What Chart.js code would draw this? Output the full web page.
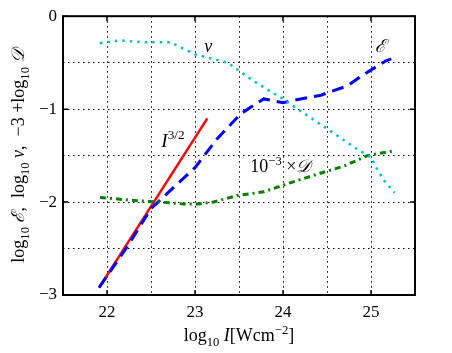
<!DOCTYPE html>
<html>
<head>
<meta charset="utf-8">
<script src="https://cdn.jsdelivr.net/npm/chart.js@4"></script>
<style>
  html, body { margin: 0; padding: 0; background: #fff; }
  canvas { display: block; }
</style>
</head>
<body>
<canvas id="c" width="452" height="353"></canvas>
<script>
// nu (cyan dotted)
const nuX = [21.92, 22.15, 22.4, 22.72, 23.0, 23.37, 23.67, 24.0, 24.2, 24.5, 24.81, 25.0, 25.06, 25.15, 25.27];
const nuY = [-0.29, -0.26, -0.28, -0.28, -0.41, -0.50, -0.70, -0.89, -1.02, -1.21, -1.41, -1.52, -1.63, -1.77, -1.90];
// E (blue dashed)
const eX = [21.91, 22.23, 22.5, 22.76, 23.0, 23.25, 23.52, 23.78, 24.0, 24.2, 24.43, 24.73, 24.92, 25.17, 25.23];
const eY = [-2.92, -2.48, -2.07, -1.84, -1.63, -1.32, -1.05, -0.89, -0.93, -0.89, -0.85, -0.75, -0.625, -0.48, -0.46];
// I^{3/2} (red)
const rX = [21.91, 23.14];
const rY = [-2.92, -1.10];
// 10^-3 x D (green dash-dot)
const dX = [21.92, 22.27, 22.6, 22.87, 23.04, 23.21, 23.48, 23.78, 24.09, 24.39, 24.7, 24.96, 25.25];
const dY = [-1.95, -1.98, -2.0, -2.02, -2.02, -2.0, -1.93, -1.89, -1.79, -1.70, -1.61, -1.50, -1.45];

const xMin = 21.5, xMax = 25.5, yMin = -3, yMax = 0;
const intTicksX = [22, 23, 24, 25];
const intTicksY = [-3, -2, -1, 0];

const FONT = "'Liberation Serif', 'DejaVu Serif', serif";
const pts = (xs, ys) => xs.map((x, i) => ({ x, y: ys[i] }));

// draw text made of pieces, some italic / sub / sup
function rich(ctx, segs, x, y, size) {
	const fontOf = s => (s.i ? "italic " : "") + (s.s ? size * 0.7 : size) + "px " + FONT;
	let w = 0;
	segs.forEach(s => { ctx.font = fontOf(s); w += ctx.measureText(s.t).width; });
	let cx = x - w / 2;
	const base = y + size * 0.33;
	ctx.textAlign = "left";
	ctx.textBaseline = "alphabetic";
	segs.forEach(s => {
		ctx.font = fontOf(s);
		const dy = s.s === "sub" ? size * 0.3 : s.s === "sup" ? -size * 0.4 : 0;
		ctx.fillText(s.t, cx, base + dy);
		cx += ctx.measureText(s.t).width;
	});
}

const extras = {
	id: "extras",
	afterDraw(chart) {
		const { ctx, chartArea: a, scales: { x, y } } = chart;
		ctx.save();
		// ticks pointing in
		ctx.strokeStyle = "#000";
		ctx.lineWidth = 1.5;
		ctx.beginPath();
		intTicksX.forEach(v => {
			const px = x.getPixelForValue(v);
			ctx.moveTo(px, a.bottom); ctx.lineTo(px, a.bottom - 5);
			ctx.moveTo(px, a.top); ctx.lineTo(px, a.top + 5);
		});
		intTicksY.forEach(v => {
			const py = y.getPixelForValue(v);
			ctx.moveTo(a.left, py); ctx.lineTo(a.left + 5, py);
			ctx.moveTo(a.right, py); ctx.lineTo(a.right - 5, py);
		});
		ctx.stroke();
		// frame
		ctx.lineWidth = 2;
		ctx.strokeRect(a.left, a.top, a.right - a.left, a.bottom - a.top);

		ctx.fillStyle = "#000";
		// curve labels
		rich(ctx, [{ t: "ν", i: true }], x.getPixelForValue(23.15), y.getPixelForValue(-0.32), 18);
		rich(ctx, [{ t: "ℰ", i: true }], x.getPixelForValue(25.11), y.getPixelForValue(-0.32), 18);
		rich(ctx, [{ t: "I", i: true }, { t: "3/2", s: "sup" }], x.getPixelForValue(22.75), y.getPixelForValue(-1.34), 19);
		rich(ctx, [{ t: "10" }, { t: "−3", s: "sup" }, { t: " ×" }, { t: "𝒟", i: true }], x.getPixelForValue(23.97), y.getPixelForValue(-1.61), 18);

		// axis titles
		rich(ctx, [{ t: "log" }, { t: "10", s: "sub" }, { t: " " }, { t: "I", i: true }, { t: "[Wcm" }, { t: "−2", s: "sup" }, { t: "]" }],
			(a.left + a.right) / 2, 335, 18);
		ctx.translate(18, (a.top + a.bottom) / 2);
		ctx.rotate(-Math.PI / 2);
		rich(ctx, [
			{ t: "log" }, { t: "10", s: "sub" }, { t: " " }, { t: "ℰ", i: true }, { t: ",  log" }, { t: "10", s: "sub" },
			{ t: " " }, { t: "ν", i: true }, { t: ",  −3 +log" }, { t: "10", s: "sub" }, { t: " " }, { t: "𝒟", i: true }
		], 0, 0, 18);
		ctx.restore();
	},
};

const tickLabel = v => Number.isInteger(v) ? (v < 0 ? "−" + (-v) : String(v)) : "";

new Chart(document.getElementById("c"), {
	type: "scatter",
	plugins: [extras],
	data: {
		datasets: [
			{ data: pts(nuX, nuY), borderColor: "#00bfbf", borderWidth: 2.5, borderDash: [2.5, 5] },
			{ data: pts(dX, dY), borderColor: "#008000", borderWidth: 3, borderDash: [6, 4, 2, 4] },
			{ data: pts(eX, eY), borderColor: "#0000ff", borderWidth: 3, borderDash: [12, 7] },
			{ data: pts(rX, rY), borderColor: "#ff0000", borderWidth: 2.5 },
		].map(d => ({ ...d, showLine: true, pointRadius: 0, fill: false, tension: 0 })),
	},
	options: {
		responsive: false,
		animation: false,
		layout: { padding: { top: 15, right: 37, left: 0, bottom: 0 } },
		plugins: { legend: { display: false }, tooltip: { enabled: false } },
		scales: {
			x: {
				type: "linear", min: xMin, max: xMax,
				afterFit: s => { s.height = 58; },
				ticks: { stepSize: 0.5, autoSkip: false, maxRotation: 0, padding: 7, color: "#000", font: { family: FONT, size: 17 }, callback: tickLabel },
				grid: { color: "#000", lineWidth: 1, drawTicks: false },
				border: { display: false, dash: [1.5, 3.5] },
			},
			y: {
				type: "linear", min: yMin, max: yMax,
				afterFit: s => { s.width = 63; },
				ticks: { stepSize: 0.5, autoSkip: false, padding: 6, color: "#000", font: { family: FONT, size: 17 }, callback: tickLabel },
				grid: { color: "#000", lineWidth: 1, drawTicks: false },
				border: { display: false, dash: [1.5, 3.5] },
			},
		},
	},
});
</script>
</body>
</html>
